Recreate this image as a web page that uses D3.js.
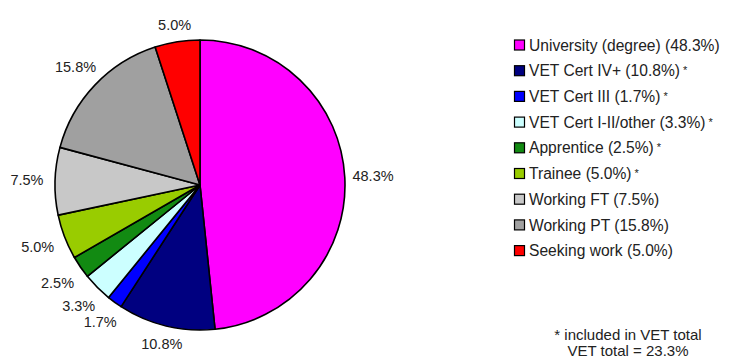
<!DOCTYPE html>
<html lang="en">
<head>
    <meta charset="UTF-8">
    <title>Destinations</title>
    <script src="https://d3js.org/d3.v7.min.js"></script>
    <style>
        body { margin: 0; background: #fff; }
        text { font-family: "Liberation Sans", Arial, sans-serif; fill: #222; }
    </style>
</head>
<body>
<script>
    // data
    let categories = ["University (degree)", "VET Cert IV+", "VET Cert III", "VET Cert I-II/other",
        "Apprentice", "Trainee", "Working FT", "Working PT", "Seeking work"];
    let values = [48.3, 10.8, 1.7, 3.3, 2.5, 5.0, 7.5, 15.8, 5.0];
    let inVet = [false, true, true, true, true, true, false, false, false];
    let colors = ["#ff00ff", "#000080", "#0000ff", "#ccffff", "#128a12", "#99cc00", "#c8c8c8", "#a0a0a0", "#ff0000"];
    let notes = ["* included in VET total", "VET total = 23.3%"];

    let width = 730, height = 363;
    let cx = 200, cy = 185, radius = 145;

    let data = categories.map(function (c, i) {
        return {name: c, value: values[i], vet: inVet[i], color: colors[i]};
    });

    let svg = d3.select("body").append("svg")
        .attr("width", width)
        .attr("height", height);

    let pie = d3.pie().sort(null).value(function (d) { return d.value; });
    let arc = d3.arc().innerRadius(0).outerRadius(radius);
    let arcs = pie(data);

    let g = svg.append("g").attr("transform", `translate(${cx},${cy})`);

    g.selectAll("path").data(arcs)
        .enter()
        .append("path")
        .attr("d", arc)
        .style("fill", function (d) { return d.data.color; })
        .style("stroke", "#000")
        .style("stroke-width", 1.6)
        .style("stroke-linejoin", "round");

    // labels outside, box pushed just clear of radius
    let r0 = 153, hw = 20, hh = 6;
    g.selectAll("text.lbl").data(arcs)
        .enter()
        .append("text")
        .attr("class", "lbl")
        .attr("text-anchor", "middle")
        .attr("dy", "0.35em")
        .style("font-size", "14.5px")
        .attr("x", function (d) {
            let a = (d.startAngle + d.endAngle) / 2;
            let dist = r0 + hw * Math.abs(Math.sin(a)) + hh * Math.abs(Math.cos(a));
            return dist * Math.sin(a);
        })
        .attr("y", function (d) {
            let a = (d.startAngle + d.endAngle) / 2;
            let dist = r0 + hw * Math.abs(Math.sin(a)) + hh * Math.abs(Math.cos(a));
            return -dist * Math.cos(a);
        })
        .text(function (d) { return d.data.value.toFixed(1) + "%"; });

    // legend
    let legend = svg.append("g").attr("transform", "translate(514,45)");
    let rowH = 25.7;
    let rows = legend.selectAll("g").data(data)
        .enter()
        .append("g")
        .attr("transform", function (d, i) { return `translate(0,${i * rowH})`; });

    rows.append("rect")
        .attr("x", 0.5)
        .attr("y", -5)
        .attr("width", 10)
        .attr("height", 10)
        .style("fill", function (d) { return d.color; })
        .style("stroke", "#000")
        .style("stroke-width", 1.2);

    rows.append("text")
        .attr("x", 15)
        .attr("dy", "0.36em")
        .style("font-size", "15.6px")
        .text(function (d) { return d.name + " (" + d.value.toFixed(1) + "%)"; })
        .append("tspan")
        .style("font-size", "11px")
        .attr("dy", "-0.2em")
        .text(function (d) { return d.vet ? "  *" : ""; });

    svg.selectAll("text.note").data(notes)
        .enter()
        .append("text")
        .attr("class", "note")
        .attr("x", 628)
        .attr("y", function (d, i) { return 340 + i * 16; })
        .attr("text-anchor", "middle")
        .style("font-size", "15px")
        .text(function (d) { return d; });
</script>
</body>
</html>
